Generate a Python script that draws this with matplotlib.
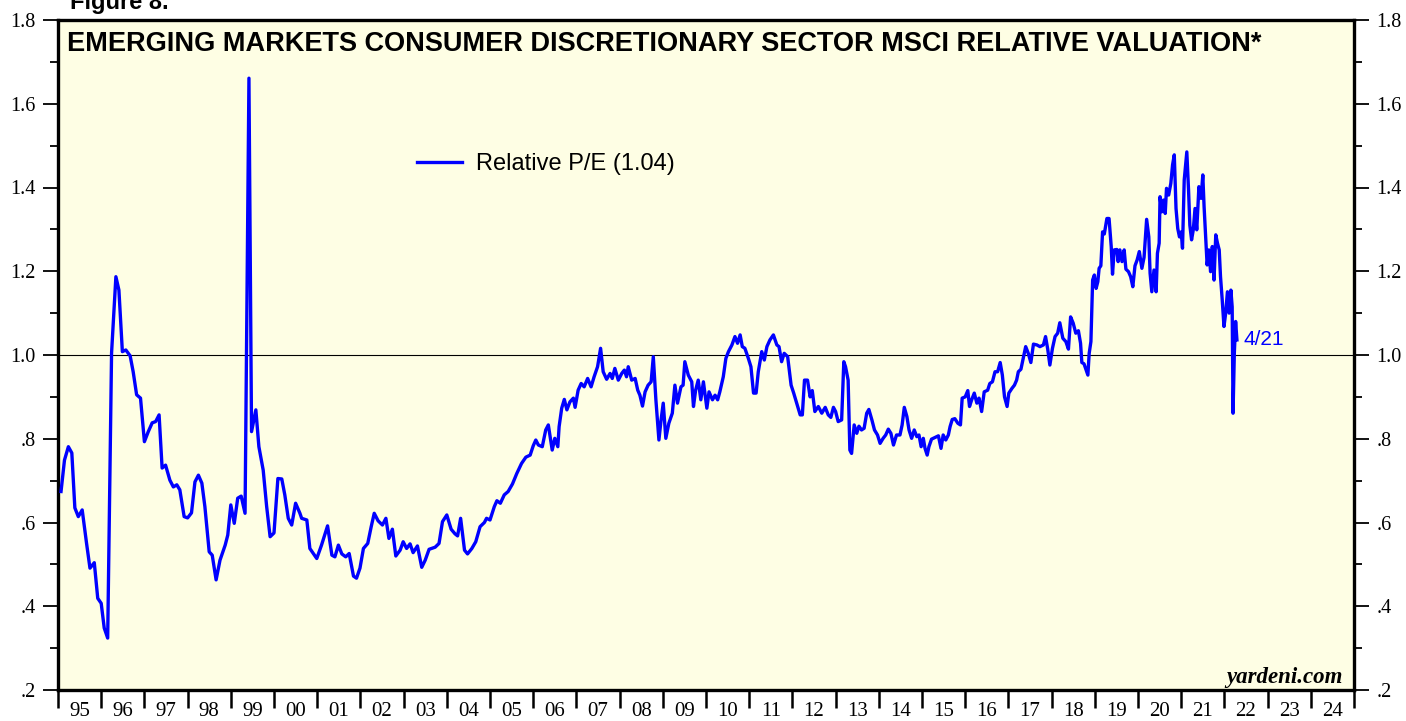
import matplotlib
matplotlib.use("Agg")
import matplotlib.pyplot as plt
from matplotlib.ticker import FixedLocator, MultipleLocator, NullFormatter

# Relative P/E (decimal year, value)
years = [
    1995.07, 1995.15, 1995.24, 1995.32, 1995.39, 1995.47, 1995.56, 1995.66, 1995.74, 1995.84, 1995.92, 1996.00,
    1996.07, 1996.15, 1996.24, 1996.34, 1996.41, 1996.49, 1996.57, 1996.67, 1996.74, 1996.82, 1996.91, 1997.00,
    1997.09, 1997.18, 1997.26, 1997.34, 1997.41, 1997.49, 1997.59, 1997.67, 1997.75, 1997.82, 1997.92, 1998.00,
    1998.09, 1998.17, 1998.25, 1998.33, 1998.40, 1998.50, 1998.57, 1998.66, 1998.75, 1998.87, 1998.93, 1999.00,
    1999.08, 1999.16, 1999.24, 1999.33, 1999.42, 1999.48, 1999.58, 1999.65, 1999.75, 1999.83, 1999.91, 2000.00,
    2000.09, 2000.18, 2000.25, 2000.33, 2000.41, 2000.50, 2000.60, 2000.64, 2000.76, 2000.83, 2000.99, 2001.10,
    2001.24, 2001.34, 2001.41, 2001.49, 2001.57, 2001.66, 2001.74, 2001.84, 2001.91, 2001.99, 2002.07, 2002.17,
    2002.25, 2002.32, 2002.41, 2002.51, 2002.59, 2002.66, 2002.74, 2002.82, 2002.92, 2002.99, 2003.07, 2003.15,
    2003.22, 2003.32, 2003.42, 2003.50, 2003.59, 2003.73, 2003.82, 2003.90, 2004.00, 2004.10, 2004.19, 2004.25,
    2004.32, 2004.41, 2004.48, 2004.58, 2004.67, 2004.77, 2004.87, 2004.92, 2005.00, 2005.10, 2005.16, 2005.24,
    2005.33, 2005.42, 2005.52, 2005.62, 2005.73, 2005.83, 2005.93, 2006.00, 2006.06, 2006.12, 2006.21, 2006.29,
    2006.35, 2006.44, 2006.50, 2006.57, 2006.60, 2006.66, 2006.72, 2006.78, 2006.85, 2006.93, 2006.97, 2007.04,
    2007.11, 2007.18, 2007.26, 2007.34, 2007.41, 2007.49, 2007.56, 2007.62, 2007.70, 2007.78, 2007.83, 2007.89,
    2007.97, 2008.05, 2008.11, 2008.16, 2008.20, 2008.28, 2008.36, 2008.42, 2008.47, 2008.53, 2008.59, 2008.66,
    2008.73, 2008.78, 2008.84, 2008.91, 2008.96, 2009.01, 2009.07, 2009.14, 2009.22, 2009.28, 2009.34, 2009.42,
    2009.47, 2009.51, 2009.59, 2009.67, 2009.71, 2009.76, 2009.82, 2009.88, 2009.94, 2010.02, 2010.07, 2010.15,
    2010.21, 2010.27, 2010.32, 2010.40, 2010.46, 2010.52, 2010.60, 2010.67, 2010.73, 2010.79, 2010.84, 2010.90,
    2010.98, 2011.04, 2011.10, 2011.16, 2011.21, 2011.29, 2011.35, 2011.41, 2011.48, 2011.56, 2011.64, 2011.69,
    2011.75, 2011.81, 2011.89, 2011.97, 2012.03, 2012.10, 2012.18, 2012.23, 2012.28, 2012.35, 2012.41, 2012.46,
    2012.52, 2012.60, 2012.68, 2012.76, 2012.83, 2012.89, 2012.95, 2013.00, 2013.06, 2013.14, 2013.19, 2013.23,
    2013.29, 2013.33, 2013.37, 2013.43, 2013.49, 2013.54, 2013.60, 2013.66, 2013.72, 2013.77, 2013.84, 2013.90,
    2013.97, 2014.03, 2014.10, 2014.16, 2014.22, 2014.28, 2014.34, 2014.41, 2014.49, 2014.54, 2014.59, 2014.65,
    2014.70, 2014.76, 2014.82, 2014.88, 2014.93, 2014.98, 2015.03, 2015.07, 2015.12, 2015.16, 2015.22, 2015.30,
    2015.38, 2015.44, 2015.49, 2015.55, 2015.61, 2015.65, 2015.70, 2015.76, 2015.83, 2015.89, 2015.93, 2016.00,
    2016.06, 2016.10, 2016.15, 2016.21, 2016.27, 2016.32, 2016.38, 2016.44, 2016.52, 2016.57, 2016.63, 2016.69,
    2016.75, 2016.81, 2016.86, 2016.91, 2016.97, 2017.01, 2017.08, 2017.14, 2017.19, 2017.23, 2017.29, 2017.35,
    2017.40, 2017.46, 2017.52, 2017.58, 2017.66, 2017.73, 2017.81, 2017.86, 2017.91, 2017.96, 2018.02, 2018.08,
    2018.14, 2018.19, 2018.26, 2018.33, 2018.39, 2018.44, 2018.50, 2018.56, 2018.62, 2018.67, 2018.70, 2018.75,
    2018.80, 2018.84, 2018.87, 2018.91, 2018.95, 2018.99, 2019.03, 2019.07, 2019.10, 2019.14, 2019.18, 2019.22,
    2019.28, 2019.33, 2019.38, 2019.41, 2019.45, 2019.51, 2019.54, 2019.58, 2019.63, 2019.68, 2019.72, 2019.78,
    2019.83, 2019.88, 2019.93, 2019.98, 2020.03, 2020.09, 2020.14, 2020.20, 2020.25, 2020.28, 2020.32, 2020.37,
    2020.42, 2020.45, 2020.49, 2020.51, 2020.55, 2020.59, 2020.63, 2020.66, 2020.71, 2020.76, 2020.80, 2020.84,
    2020.88, 2020.92, 2020.96, 2021.00, 2021.03, 2021.07, 2021.13, 2021.17, 2021.20, 2021.24, 2021.28, 2021.32,
    2021.36, 2021.41, 2021.46, 2021.50, 2021.53, 2021.57, 2021.60, 2021.64, 2021.68, 2021.72, 2021.76, 2021.80,
    2021.84, 2021.88, 2021.91, 2021.95, 2021.99, 2022.03, 2022.07, 2022.11, 2022.15, 2022.18, 2022.20, 2022.23,
    2022.26, 2022.29,
]
rel_pe = [
    0.674, 0.749, 0.781, 0.766, 0.635, 0.614, 0.630, 0.551, 0.491, 0.504, 0.419, 0.407,
    0.348, 0.324, 1.005, 1.187, 1.155, 1.008, 1.012, 0.998, 0.960, 0.905, 0.897, 0.793,
    0.817, 0.838, 0.841, 0.857, 0.730, 0.737, 0.701, 0.685, 0.690, 0.678, 0.614, 0.611,
    0.623, 0.697, 0.713, 0.694, 0.638, 0.530, 0.522, 0.463, 0.510, 0.546, 0.570, 0.642,
    0.598, 0.658, 0.663, 0.622, 1.661, 0.817, 0.869, 0.781, 0.725, 0.638, 0.566, 0.575,
    0.705, 0.704, 0.666, 0.610, 0.594, 0.646, 0.622, 0.610, 0.606, 0.538, 0.514, 0.546,
    0.592, 0.522, 0.518, 0.546, 0.525, 0.518, 0.526, 0.472, 0.467, 0.491, 0.538, 0.550,
    0.590, 0.622, 0.604, 0.594, 0.610, 0.562, 0.584, 0.520, 0.534, 0.554, 0.538, 0.549,
    0.528, 0.544, 0.493, 0.510, 0.536, 0.541, 0.550, 0.602, 0.618, 0.584, 0.573, 0.568,
    0.610, 0.534, 0.525, 0.538, 0.554, 0.590, 0.600, 0.610, 0.606, 0.638, 0.652, 0.646,
    0.666, 0.674, 0.692, 0.717, 0.741, 0.756, 0.761, 0.783, 0.797, 0.785, 0.781, 0.821,
    0.833, 0.773, 0.801, 0.781, 0.829, 0.873, 0.894, 0.869, 0.888, 0.897, 0.875, 0.916,
    0.932, 0.924, 0.944, 0.924, 0.948, 0.972, 1.016, 0.960, 0.942, 0.956, 0.944, 0.968,
    0.940, 0.956, 0.964, 0.948, 0.972, 0.940, 0.944, 0.916, 0.904, 0.878, 0.912, 0.928,
    0.936, 0.996, 0.893, 0.797, 0.845, 0.885, 0.801, 0.837, 0.861, 0.928, 0.885, 0.924,
    0.928, 0.984, 0.952, 0.936, 0.877, 0.916, 0.940, 0.893, 0.936, 0.873, 0.912, 0.893,
    0.904, 0.893, 0.912, 0.948, 0.992, 1.008, 1.024, 1.044, 1.028, 1.048, 1.020, 1.016,
    0.992, 0.972, 0.909, 0.909, 0.960, 1.008, 0.988, 1.020, 1.036, 1.048, 1.024, 1.020,
    0.984, 1.004, 0.996, 0.928, 0.909, 0.885, 0.857, 0.857, 0.940, 0.940, 0.900, 0.915,
    0.865, 0.877, 0.861, 0.875, 0.857, 0.851, 0.875, 0.865, 0.841, 0.845, 0.984, 0.972,
    0.940, 0.773, 0.765, 0.833, 0.813, 0.830, 0.821, 0.825, 0.861, 0.870, 0.845, 0.821,
    0.809, 0.789, 0.801, 0.809, 0.823, 0.813, 0.785, 0.809, 0.809, 0.833, 0.875, 0.853,
    0.821, 0.801, 0.821, 0.805, 0.809, 0.781, 0.801, 0.777, 0.761, 0.781, 0.799, 0.803,
    0.807, 0.777, 0.809, 0.797, 0.809, 0.829, 0.846, 0.848, 0.837, 0.833, 0.897, 0.900,
    0.915, 0.877, 0.893, 0.909, 0.885, 0.897, 0.865, 0.912, 0.916, 0.932, 0.936, 0.960,
    0.960, 0.982, 0.952, 0.900, 0.877, 0.909, 0.920, 0.928, 0.940, 0.960, 0.966, 0.996,
    1.020, 1.004, 0.982, 1.026, 1.024, 1.020, 1.024, 1.044, 1.014, 0.976, 1.016, 1.044,
    1.052, 1.077, 1.040, 1.032, 1.014, 1.091, 1.076, 1.052, 1.058, 1.028, 0.982, 0.979,
    0.964, 0.952, 1.004, 1.032, 1.179, 1.191, 1.159, 1.175, 1.207, 1.213, 1.294, 1.289,
    1.326, 1.326, 1.259, 1.193, 1.251, 1.252, 1.223, 1.251, 1.223, 1.251, 1.205, 1.199,
    1.187, 1.163, 1.213, 1.227, 1.247, 1.207, 1.233, 1.324, 1.282, 1.195, 1.151, 1.203,
    1.151, 1.243, 1.267, 1.378, 1.342, 1.370, 1.338, 1.398, 1.382, 1.410, 1.454, 1.478,
    1.350, 1.302, 1.282, 1.294, 1.255, 1.418, 1.485, 1.394, 1.310, 1.275, 1.299, 1.350,
    1.299, 1.402, 1.374, 1.430, 1.354, 1.275, 1.215, 1.251, 1.199, 1.259, 1.179, 1.287,
    1.267, 1.251, 1.187, 1.131, 1.068, 1.100, 1.151, 1.100, 1.155, 1.115, 0.861, 1.004,
    1.080, 1.036,
]
assert len(years) == len(rel_pe)

year_start, year_end = 1995, 2025
year_labels = [f"{y % 100:02d}" for y in range(year_start, year_end)]
y_ticks = [0.2, 0.4, 0.6, 0.8, 1.0, 1.2, 1.4, 1.6, 1.8]
y_labels = [".2", ".4", ".6", ".8", "1.0", "1.2", "1.4", "1.6", "1.8"]
legend_label = "Relative P/E (1.04)"
last_label = "4/21"

sans = "Liberation Sans"
serif = "Liberation Serif"

fig = plt.figure(figsize=(14.06, 7.21), dpi=100)
ax = fig.add_axes([58 / 1406, 31 / 721, 1296 / 1406, 670 / 721])
ax.set_facecolor("#FEFEE4")

ax.axhline(1.0, color="black", lw=0.8, zorder=1)
ax.plot(years, rel_pe, color="#0000FF", lw=2.4, label=legend_label, zorder=3)

ax.set_xlim(year_start, year_end)
ax.set_ylim(0.2, 1.8)

for s in ax.spines.values():
    s.set_linewidth(2.4)

# x axis: ticks on year boundaries, labels centred in each year
ax.xaxis.set_major_locator(FixedLocator(range(year_start, year_end + 1)))
ax.xaxis.set_major_formatter(NullFormatter())
ax.xaxis.set_minor_locator(FixedLocator([y + 0.5 for y in range(year_start, year_end)]))
ax.set_xticklabels(year_labels, minor=True)
ax.tick_params(axis="x", which="major", direction="out", length=13, width=1.8)
ax.tick_params(axis="x", which="minor", length=0, pad=8.5)

# y axis on both sides
ax.set_yticks(y_ticks)
ax.set_yticklabels(y_labels)
ax.yaxis.set_minor_locator(MultipleLocator(0.1))
ax.tick_params(axis="y", which="both", direction="out", left=True, right=True,
               labelleft=True, labelright=True)
ax.tick_params(axis="y", which="major", length=11, width=1.3, pad=5)
ax.tick_params(axis="y", which="minor", length=6, width=1.3)

for lab in ax.get_xticklabels(minor=True):
    lab.set_fontfamily(serif)
    lab.set_fontsize(15)
for lab in ax.get_yticklabels():
    lab.set_fontfamily(serif)
    lab.set_fontsize(14.5)

ax.text(0.007, 0.964, "EMERGING MARKETS CONSUMER DISCRETIONARY SECTOR MSCI RELATIVE VALUATION*",
        transform=ax.transAxes, ha="left", va="center", fontsize=19.5, fontweight="bold",
        family=sans)
ax.text(0.9915, 0.0105, "yardeni.com", transform=ax.transAxes, ha="right", va="baseline",
        fontsize=16.5, fontweight="bold", fontstyle="italic", family=serif)
fig.text(70 / 1406, 1 - 9 / 721, "Figure 8.", ha="left", va="baseline", fontsize=17,
         fontweight="bold", family=sans)

ax.annotate(last_label, xy=(years[-1], rel_pe[-1]), xytext=(5, 0), textcoords="offset points",
            ha="left", va="center", color="#0000FF", fontsize=15, family=sans)

leg = ax.legend(loc="center left", bbox_to_anchor=(0.277, 0.785), frameon=False,
                prop={"family": sans, "size": 17}, handlelength=1.9, handletextpad=0.6,
                borderpad=0, borderaxespad=0)

fig.savefig("out.png", dpi=100, facecolor="white")
